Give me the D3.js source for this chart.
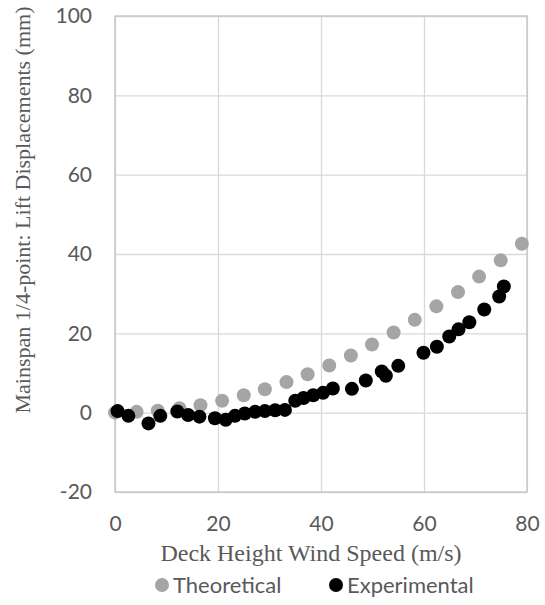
<!DOCTYPE html>
<html>
<head>
<meta charset="utf-8">
<script src="https://cdn.jsdelivr.net/npm/d3@7"></script>
<style>
	body { margin: 0; background: #fff; }
	svg { display: block; }
</style>
</head>
<body>
<div id="main-content"></div>
<script>
'use strict'

// theoretical curve (m/s, mm)
const windTheo = [0, 4.2, 8.3, 12.5, 16.6, 20.8, 25.0, 29.1, 33.3, 37.4, 41.6, 45.8, 49.9, 54.1, 58.2, 62.4, 66.6, 70.7, 74.9, 79.0]
const liftTheo = [0, 0.2, 0.5, 1.1, 1.9, 3.0, 4.4, 5.9, 7.7, 9.7, 11.9, 14.4, 17.2, 20.2, 23.4, 26.8, 30.4, 34.3, 38.4, 42.6]

// wind tunnel measurements
const windExp = [0.5, 2.6, 6.5, 8.8, 12.1, 14.2, 16.4, 19.4, 21.5, 23.3, 25.2, 27.2, 29.1, 31.1, 33.0, 35.0, 36.6, 38.5, 40.4, 42.3, 46.0, 48.7, 51.8, 52.6, 55.0, 59.9, 62.5, 64.9, 66.7, 68.8, 71.7, 74.6, 75.5]
const liftExp = [0.4, -0.8, -2.7, -0.8, 0.3, -0.6, -1.0, -1.4, -1.8, -0.8, -0.2, 0.2, 0.4, 0.6, 0.7, 3.0, 3.7, 4.4, 5.0, 6.1, 6.0, 8.1, 10.4, 9.3, 11.8, 15.1, 16.6, 19.2, 21.0, 22.8, 26.0, 29.3, 31.8]

const xTicks = [0, 20, 40, 60, 80]
const yTicks = [-20, 0, 20, 40, 60, 80, 100]

const seriesNames = ['Theoretical', 'Experimental']
const seriesColors = ['#a5a5a5', '#000000']

const width = 545,
		height = 605

const plot = { left: 115, right: 527, top: 16, bottom: 492 }

const svg = d3.select('#main-content').append('svg')
	.attr('width', width)
	.attr('height', height)

const x = d3.scaleLinear().domain([0, 80]).range([plot.left, plot.right])
const y = d3.scaleLinear().domain([-20, 100]).range([plot.bottom, plot.top])

const sans = 'Lato, "Open Sans", sans-serif'
const serif = '"Liberation Serif", "DejaVu Serif", serif'
const textColor = '#595959'

// gridlines
const grid = svg.append('g').attr('class', 'grid')
grid.append('g')
	.attr('transform', 'translate(0,' + plot.bottom + ')')
	.call(d3.axisBottom(x).tickValues(xTicks).tickSize(plot.top - plot.bottom).tickFormat(''))
grid.append('g')
	.attr('transform', 'translate(' + plot.left + ',0)')
	.call(d3.axisLeft(y).tickValues(yTicks).tickSize(plot.left - plot.right).tickFormat(''))
grid.selectAll('.domain').remove()
grid.selectAll('line').attr('stroke', '#d9d9d9').attr('stroke-width', 1.3)

svg.append('rect')
	.attr('x', plot.left)
	.attr('y', plot.top)
	.attr('width', plot.right - plot.left)
	.attr('height', plot.bottom - plot.top)
	.attr('fill', 'none')
	.attr('stroke', '#c4c4c4')
	.attr('stroke-width', 1.3)

// tick labels (plain hyphen for negatives, like the source)
const plain = (d) => String(d)
const xAxis = svg.append('g')
	.attr('transform', 'translate(0,' + plot.bottom + ')')
	.call(d3.axisBottom(x).tickValues(xTicks).tickSize(0).tickPadding(24).tickFormat(plain))
const yAxis = svg.append('g')
	.attr('transform', 'translate(' + plot.left + ',0)')
	.call(d3.axisLeft(y).tickValues(yTicks).tickSize(0).tickPadding(23).tickFormat(plain))
for (const ax of [xAxis, yAxis]) {
	ax.select('.domain').remove()
	ax.selectAll('text')
		.attr('fill', textColor)
		.style('font-family', sans)
		.style('font-size', '21px')
}

// points
const theo = windTheo.map((w, i) => ({ w: w, v: liftTheo[i] }))
const expt = windExp.map((w, i) => ({ w: w, v: liftExp[i] }))

svg.append('g').selectAll('circle')
	.data(theo)
	.enter().append('circle')
	.attr('cx', function(d) { return x(d.w) })
	.attr('cy', function(d) { return y(d.v) })
	.attr('r', 7)
	.attr('fill', seriesColors[0])

svg.append('g').selectAll('circle')
	.data(expt)
	.enter().append('circle')
	.attr('cx', function(d) { return x(d.w) })
	.attr('cy', function(d) { return y(d.v) })
	.attr('r', 7)
	.attr('fill', seriesColors[1])

// axis titles
svg.append('text')
	.attr('x', (plot.left + plot.right) / 2 - 10)
	.attr('y', 561)
	.attr('text-anchor', 'middle')
	.attr('fill', textColor)
	.style('font-family', serif)
	.style('font-size', '24px')
	.text('Deck Height Wind Speed (m/s)')

svg.append('text')
	.attr('transform', 'translate(30,210) rotate(-90)')
	.attr('text-anchor', 'middle')
	.attr('fill', textColor)
	.style('font-family', serif)
	.style('font-size', '22px')
	.text('Mainspan 1/4-point: Lift Displacements (mm)')

// legend
const legendX = [162, 336]
const legend = svg.append('g').selectAll('g')
	.data(seriesNames)
	.enter().append('g')
	.attr('transform', function(d, i) { return 'translate(' + legendX[i] + ',585)' })
legend.append('circle')
	.attr('r', 7)
	.attr('fill', function(d, i) { return seriesColors[i] })
legend.append('text')
	.attr('x', 11)
	.attr('dy', '.35em')
	.attr('fill', textColor)
	.style('font-family', sans)
	.style('font-size', '22px')
	.text(function(d) { return d })
</script>
</body>
</html>
